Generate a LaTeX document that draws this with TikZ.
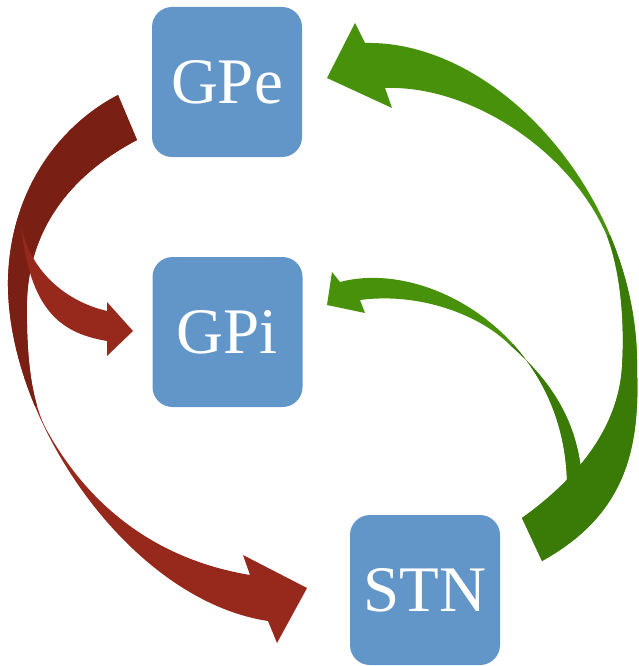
\documentclass[tikz,border=0pt]{standalone}
\usepackage{fontspec}
\setmainfont{Liberation Serif}
\definecolor{boxblue}{RGB}{98,150,200}
\definecolor{redlight}{RGB}{150,40,28}
\definecolor{reddark}{RGB}{122,31,19}
\definecolor{greenlight}{RGB}{72,145,10}
\definecolor{greendark}{RGB}{58,122,6}
\begin{document}
\begin{tikzpicture}[x=1pt,y=-1pt,
  nucleus/.style={fill=boxblue, rounded corners=20pt, minimum width=150pt, minimum height=150pt,
    inner sep=0pt, text=white, font=\fontsize{65}{78}\selectfont, text depth=0pt}]
\useasboundingbox (0,0) rectangle (638,666);

% nuclei
\node[nucleus] (gpe) at (227,82) {GPe};
\node[nucleus] (gpi) at (227.5,332) {GPi};
\node[nucleus] (stn) at (425,590) {STN};

% arrow key points
\coordinate (redTailA) at (118,95);
\coordinate (redTailB) at (137,140);
\coordinate (gpiTip) at (133,331);
\coordinate (gpiBarbA) at (107,302);
\coordinate (gpiBarbB) at (107,356);
\coordinate (stnTip) at (307,588);
\coordinate (stnBarbA) at (243,555);
\coordinate (stnBarbB) at (277,643);
\coordinate (grnTailA) at (542,561);
\coordinate (grnTailB) at (522,518);
\coordinate (gpeTip) at (327,78);
\coordinate (gpeBarbA) at (355,23);
\coordinate (gpeBarbB) at (392,108);
\coordinate (gpiTipG) at (327,305);
\coordinate (gpiBarbAG) at (332,272);
\coordinate (gpiBarbBG) at (365,313);

% ribbon outlines
\def\redstn{(redTailA) .. controls (60,125) and (10,190) .. (8,280)
  .. controls (6,420) and (130,600) .. (268,621) -- (stnBarbB) -- (stnTip) -- (stnBarbA)
  -- (250,575) .. controls (160,560) and (90,510) .. (45,427)
  .. controls (32,400) and (26,360) .. (27,300)
  .. controls (30,220) and (80,170) .. (redTailB) -- cycle}
\def\greengpe{(grnTailA) .. controls (625,515) and (640,450) .. (637,370)
  .. controls (640,200) and (500,40) .. (365,43) -- (gpeBarbA) -- (gpeTip) -- (gpeBarbB)
  -- (385,88) .. controls (470,85) and (570,150) .. (607,236)
  .. controls (620,270) and (625,320) .. (622,367)
  .. controls (618,430) and (575,480) .. (grnTailB) -- cycle}
\def\greengpi{(340,282) .. controls (430,258) and (570,340) .. (567,492)
  -- (582,480) .. controls (578,420) and (550,380) .. (510,345)
  .. controls (480,315) and (420,292) .. (360,300)
  -- (gpiBarbBG) -- (gpiTipG) -- (gpiBarbAG) -- cycle}

% GPe -> STN, with the dark back part shared with GPe -> GPi
\fill[redlight] \redstn;
\begin{scope}
  \clip (0,0) rectangle (200,405);
  \fill[reddark] \redstn;
\end{scope}
% GPe -> GPi (front part)
\fill[redlight] (21,225) .. controls (28,265) and (60,300) .. (107,311)
  -- (gpiBarbA) -- (gpiTip) -- (gpiBarbB)
  -- (107,341) .. controls (60,333) and (30,310) .. (21,225) -- cycle;

% STN -> GPi (green, small)
\fill[greenlight] \greengpi;
\begin{scope}
  \clip (412,445) -- (612,245) -- (700,330) -- (700,700) -- (412,700) -- cycle;
  \fill[greendark] \greengpi;
\end{scope}

% STN -> GPe (green, large)
\fill[greenlight] \greengpe;
\begin{scope}
  \clip (400,300) -- (560,257) -- (680,204) -- (680,700) -- (400,700) -- cycle;
  \fill[greendark] \greengpe;
\end{scope}
\end{tikzpicture}
\end{document}
